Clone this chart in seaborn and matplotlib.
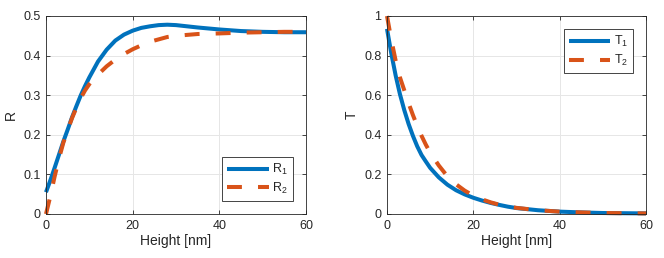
import numpy as np
import pandas as pd
import matplotlib
matplotlib.use("Agg")
import matplotlib.pyplot as plt
import seaborn as sns
from matplotlib.ticker import FuncFormatter, MultipleLocator

height = [0, 1, 2, 3, 4, 5, 6, 7, 8, 9, 10, 12, 14, 16, 18, 20, 22, 24, 26, 28, 30, 35, 40, 45, 50, 55, 60]
R1 = [0.055, 0.085, 0.117, 0.150, 0.183, 0.213, 0.244, 0.272, 0.299, 0.323, 0.345, 0.385, 0.415, 0.438, 0.453,
      0.463, 0.470, 0.474, 0.477, 0.478, 0.477, 0.471, 0.466, 0.462, 0.460, 0.459, 0.459]
R2 = [0.0, 0.045, 0.095, 0.140, 0.180, 0.212, 0.242, 0.268, 0.292, 0.312, 0.328, 0.352, 0.373, 0.390, 0.404,
      0.416, 0.426, 0.435, 0.441, 0.447, 0.450, 0.4545, 0.456, 0.458, 0.459, 0.460, 0.460]
T1 = [0.935, 0.81, 0.70, 0.605, 0.525, 0.455, 0.395, 0.342, 0.298, 0.265, 0.233, 0.185, 0.148, 0.120, 0.099,
      0.082, 0.068, 0.056, 0.046, 0.037, 0.030, 0.019, 0.012, 0.008, 0.005, 0.004, 0.003]
T2 = [1.0, 0.88, 0.775, 0.69, 0.625, 0.56, 0.50, 0.445, 0.395, 0.35, 0.31, 0.245, 0.19, 0.15, 0.118,
      0.093, 0.074, 0.059, 0.047, 0.038, 0.031, 0.019, 0.012, 0.008, 0.005, 0.004, 0.003]

xlabel = "Height [nm]"
labels_R = [r"R$_1$", r"R$_2$"]
labels_T = [r"T$_1$", r"T$_2$"]

df = pd.DataFrame({"h": height, "R1": R1, "R2": R2, "T1": T1, "T2": T2})

sns.set_theme(style="white")
plt.rcParams["font.family"] = ["Liberation Sans", "DejaVu Sans"]
plt.rcParams["mathtext.fontset"] = "custom"
plt.rcParams["mathtext.rm"] = "Liberation Sans"
plt.rcParams["mathtext.it"] = "Liberation Sans"
plt.rcParams["mathtext.default"] = "regular"

BLUE = "#0072BD"
ORANGE = "#D95319"
DARK = "#262626"
LW = 2.9
DASH = (0, (3.7, 4.0))

fig = plt.figure(figsize=(6.64, 2.58), dpi=100)
ax1 = fig.add_axes([46 / 664, 44 / 258, 260 / 664, 198 / 258])
ax2 = fig.add_axes([387 / 664, 44 / 258, 259 / 664, 198 / 258])

def style(ax, ymax, ystep, ylabel):
    ax.set_xlim(0, 60)
    ax.set_ylim(0, ymax)
    ax.xaxis.set_major_locator(MultipleLocator(20))
    ax.yaxis.set_major_locator(MultipleLocator(ystep))
    ax.yaxis.set_major_formatter(FuncFormatter(lambda v, p: f"{v:g}"))
    ax.grid(True, color="#e6e6e6", linewidth=0.7)
    ax.set_axisbelow(True)
    for s in ax.spines.values():
        s.set_color(DARK)
        s.set_linewidth(0.6)
        s.set_visible(True)
    ax.tick_params(direction="in", length=3, width=0.6, color=DARK, labelcolor=DARK,
                   labelsize=9, top=True, right=True, bottom=True, left=True, pad=4)
    ax.set_xlabel(xlabel, fontsize=10, color=DARK, labelpad=2)
    ax.set_ylabel(ylabel, fontsize=10, color=DARK, labelpad=4)

sns.lineplot(data=df, x="h", y="R1", ax=ax1, color=BLUE, linewidth=LW, label=labels_R[0])
sns.lineplot(data=df, x="h", y="R2", ax=ax1, color=ORANGE, linewidth=LW, linestyle=DASH,
             label=labels_R[1])
sns.lineplot(data=df, x="h", y="T1", ax=ax2, color=BLUE, linewidth=LW, label=labels_T[0])
sns.lineplot(data=df, x="h", y="T2", ax=ax2, color=ORANGE, linewidth=LW, linestyle=DASH,
             label=labels_T[1])
for ax in (ax1, ax2):
    for ln in ax.get_lines():
        ln.set_dash_capstyle("butt")
        ln.set_solid_capstyle("butt")
        ln.set_clip_on(False)

style(ax1, 0.5, 0.1, "R")
style(ax2, 1.0, 0.2, "T")

leg_kw = dict(fontsize=9, frameon=True, fancybox=False, framealpha=1, edgecolor=DARK,
              handlelength=3.3, handletextpad=0.3, borderpad=0.4, labelspacing=0.3,
              borderaxespad=0)
l1 = ax1.legend(loc="lower right", bbox_to_anchor=(0.95, 0.066), **leg_kw)
l2 = ax2.legend(loc="upper right", bbox_to_anchor=(0.95, 0.934), **leg_kw)
for l in (l1, l2):
    l.get_frame().set_linewidth(0.6)
    for t in l.get_texts():
        t.set_color(DARK)

fig.savefig("out.png", dpi=100, facecolor="white")
